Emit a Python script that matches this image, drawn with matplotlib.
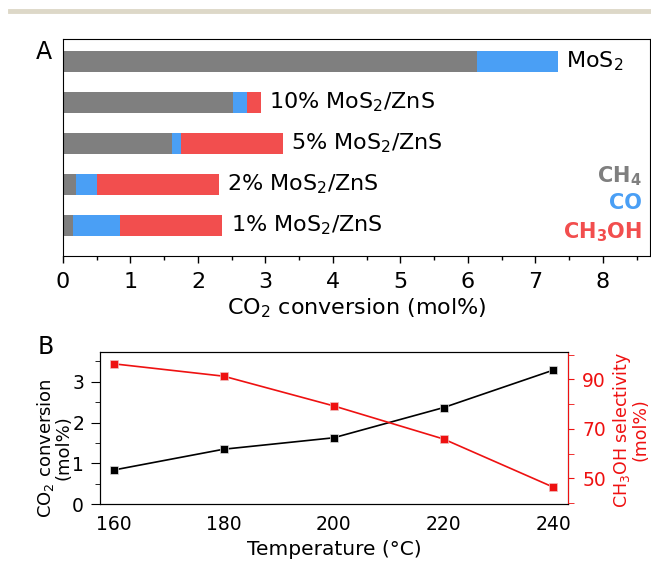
import matplotlib
matplotlib.use("Agg")
import matplotlib.pyplot as plt
from matplotlib.lines import Line2D
from matplotlib.ticker import MultipleLocator

# panel A: product split of the CO2 conversion (mol%)
catalysts = ["1% MoS$_2$/ZnS", "2% MoS$_2$/ZnS", "5% MoS$_2$/ZnS",
             "10% MoS$_2$/ZnS", "MoS$_2$"]
ch4 = [0.15, 0.20, 1.61, 2.52, 6.13]
co = [0.70, 0.30, 0.14, 0.20, 1.20]
ch3oh = [1.51, 1.81, 1.51, 0.21, 0.0]

# panel B: temperature series
temps = [160, 180, 200, 220, 240]
conversion = [0.84, 1.35, 1.63, 2.37, 3.29]
selectivity = [96.3, 91.3, 79.3, 65.9, 46.4]

grey = "#7f7f7f"
blue = "#4a9ff5"
red = "#f24e4e"
lred = "#ee1111"

W, H = 651, 562
fig = plt.figure(figsize=(W / 100, H / 100), dpi=100)

# thin rule at the top of the page
fig.add_artist(Line2D([10 / W, 1], [1 - 11 / H] * 2, color="#ddd8c8", lw=3.5))

# ---- panel A
axA = fig.add_axes([63 / W, 1 - 255.7 / H, 587 / W, 216.7 / H])
ypos = list(range(len(catalysts)))
left2 = [a + b for a, b in zip(ch4, co)]
axA.barh(ypos, ch4, height=0.51, color=grey)
axA.barh(ypos, co, left=ch4, height=0.51, color=blue)
axA.barh(ypos, ch3oh, left=left2, height=0.51, color=red)
for y, lab, a, b in zip(ypos, catalysts, left2, ch3oh):
    axA.annotate(lab, xy=(a + b, y), xytext=(6, 0), textcoords="offset points",
                 va="center", ha="left", fontsize=16)
axA.set_xlim(0, 8.7)
axA.set_ylim(-0.735, 4.54)
axA.set_yticks([])
axA.xaxis.set_major_locator(MultipleLocator(1))
axA.xaxis.set_minor_locator(MultipleLocator(0.5))
axA.tick_params(axis="x", which="major", direction="out", length=5, width=1,
                labelsize=16, pad=7)
axA.tick_params(axis="x", which="minor", direction="out", length=3, width=1)
axA.set_xlabel("CO$_2$ conversion (mol%)", fontsize=16, labelpad=3)

fig.text(641.7 / W, 1 - 176.7 / H, "CH$_\\mathbf{4}$", color=grey, fontsize=15,
         fontweight="bold", ha="right", va="center")
fig.text(641.7 / W, 1 - 203 / H, "CO", color=blue, fontsize=15,
         fontweight="bold", ha="right", va="center")
fig.text(641.7 / W, 1 - 231.7 / H, "CH$_\\mathbf{3}$OH", color=red, fontsize=15,
         fontweight="bold", ha="right", va="center")

fig.text(44 / W, 1 - 52 / H, "A", fontsize=17, ha="center", va="center")
fig.text(45.7 / W, 1 - 346.7 / H, "B", fontsize=17, ha="center", va="center")

# ---- panel B
axB = fig.add_axes([100 / W, 1 - 504.3 / H, 468.3 / W, 152.6 / H])
axB.plot(temps, conversion, color="black", lw=1.2, marker="s", ms=6,
         mec="#e0e0e0", mew=0.5)
axB.set_xlim(157.5, 242.7)
axB.set_ylim(0, 3.74)
axB.set_xticks(temps)
axB.yaxis.set_major_locator(MultipleLocator(1))
axB.yaxis.set_minor_locator(MultipleLocator(0.5))
axB.tick_params(axis="x", length=0, labelsize=13.5, pad=8)
axB.tick_params(axis="y", which="major", direction="out", length=6.5, labelsize=13.5,
                pad=5)
axB.tick_params(axis="y", which="minor", direction="out", length=3.5)
axB.set_xlabel("Temperature (°C)", fontsize=14.5, labelpad=4)
axB.set_ylabel("CO$_2$ conversion\n(mol%)", fontsize=13, linespacing=0.9)
axB.yaxis.set_label_coords(-0.058, 0.369)

ax2 = axB.twinx()
ax2.plot(temps, selectivity, color=lred, lw=1.2, marker="s", ms=6,
         mec="#f0c0c0", mew=0.5)
ax2.set_ylim(39.5, 101.2)
ax2.yaxis.set_major_locator(MultipleLocator(20, offset=10))
ax2.yaxis.set_minor_locator(MultipleLocator(20))
ax2.spines["right"].set_color(lred)
ax2.tick_params(axis="y", which="major", direction="out", length=4, labelsize=13.5,
                color=lred, labelcolor=lred, pad=6)
ax2.tick_params(axis="y", which="minor", direction="out", length=4, color=lred)
ax2.set_ylabel("CH$_3$OH selectivity\n(mol%)", fontsize=12.5, color=lred,
               linespacing=0.9)
ax2.yaxis.set_label_coords(1.091, 0.487)

fig.savefig("out.png", dpi=100)
